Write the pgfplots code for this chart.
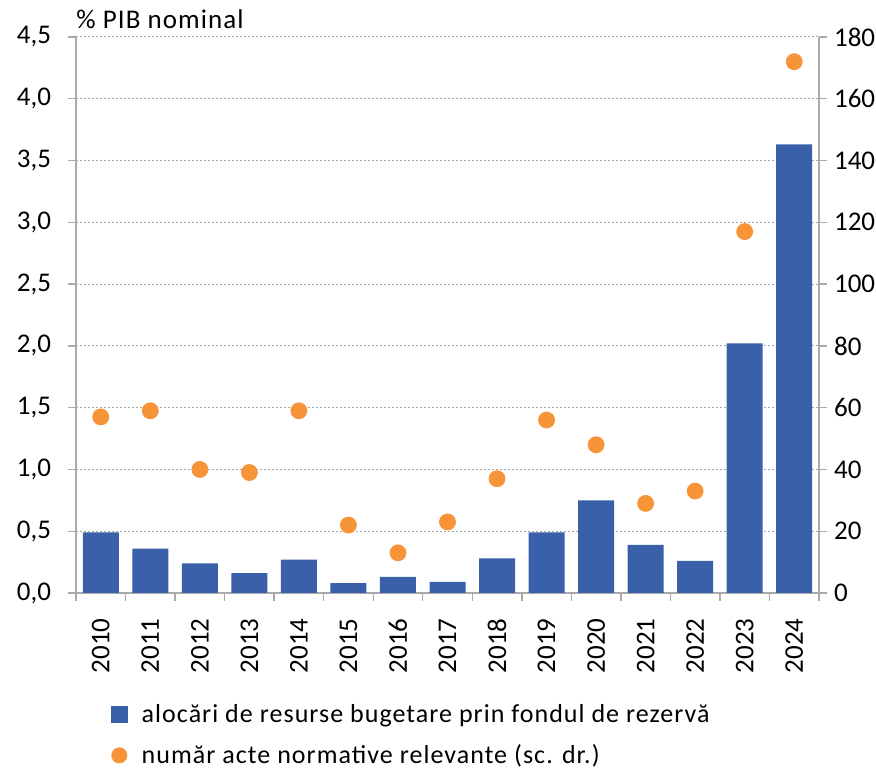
\documentclass[border=0pt]{standalone}
\usepackage{pgfplots}
\pgfplotsset{compat=1.18}
\usepackage{pgfplotstable}
\usepackage{fontspec}
\setmainfont{Carlito}
\newfontfamily\spaced[LetterSpace=4]{Carlito}
\definecolor{barblue}{RGB}{59,96,170}
\definecolor{dotorange}{RGB}{247,148,56}
\definecolor{axgray}{RGB}{170,170,170}
\definecolor{gridgray}{RGB}{165,165,165}

\pgfplotstableread{
x year alloc acts
0 2010 0.49 57
1 2011 0.36 59
2 2012 0.24 40
3 2013 0.16 39
4 2014 0.27 59
5 2015 0.08 22
6 2016 0.13 13
7 2017 0.09 23
8 2018 0.28 37
9 2019 0.49 56
10 2020 0.75 48
11 2021 0.39 29
12 2022 0.26 33
13 2023 2.02 117
14 2024 3.63 172
}\data

\begin{document}
\begin{tikzpicture}
\pgfplotsset{
  base/.style={
    scale only axis, width=371.5pt, height=278pt,
    xmin=-0.5, xmax=14.5,
    tick align=outside,
    axis line style={axgray, line width=0.7pt, -},
    tick style={axgray, line width=0.7pt},
    major tick length=4pt,
    ticklabel style={font=\fontsize{13.5}{16}\selectfont},
    /pgf/number format/assume math mode=true,
  }
}
\begin{axis}[base,
  axis x line*=bottom, axis y line*=left,
  ymin=0, ymax=4.5, ytick={0,0.5,1,1.5,2,2.5,3,3.5,4,4.5},
  ymajorgrids,
  grid style={gridgray, dash pattern=on 1pt off 1pt, line width=0.5pt},
  yticklabel style={xshift=-5pt, /pgf/number format/.cd, fixed, fixed zerofill, precision=1, use comma},
  xtick={-0.5,0.5,1.5,2.5,3.5,4.5,5.5,6.5,7.5,8.5,9.5,10.5,11.5,12.5,13.5,14.5},
  x tick label as interval,
  xticklabels={2010,2011,2012,2013,2014,2015,2016,2017,2018,2019,2020,2021,2022,2023,2024},
  xticklabel style={rotate=90, anchor=east, inner xsep=8.5pt},
]
\addplot[ybar, bar width=18pt, fill=barblue, draw=none] table[x=x, y=alloc]{\data};
\coordinate (sw) at (rel axis cs:0,0);
\coordinate (ne) at (rel axis cs:1,1);
\coordinate (nw) at (rel axis cs:0,1);
\end{axis}
\begin{axis}[base,
  axis y line*=right, axis x line=none,
  ymin=0, ymax=180, ytick={0,20,...,180},
  legend style={draw=none, fill=none, inner sep=0pt, outer sep=0pt,
    at={(0.047,-0.193)}, anchor=north west,
    font=\fontsize{13}{16}\selectfont\spaced, row sep=5.5pt,
    /tikz/every odd column/.append style={column sep=5pt}},
  legend cell align=left,
]
\addlegendimage{legend image code/.code={\fill[barblue] (0pt,-4pt) rectangle (8pt,4pt);}}
\addlegendentry{alocări de resurse bugetare prin fondul de rezervă}
\addplot[only marks, mark=*, mark size=4pt, color=dotorange,
  legend image code/.code={\fill[dotorange] (4pt,0pt) circle (3.8pt);}]
  table[x=x, y=acts]{\data};
\addlegendentry{număr acte normative relevante (sc. dr.)}
\end{axis}
\node[anchor=base west, font=\fontsize{13.5}{16}\selectfont\spaced, inner sep=0pt] at ([yshift=4pt]nw) {\% PIB nominal};
\pgfresetboundingbox
\path ([shift={(-38pt,-89.5pt)}]sw) rectangle ([shift={(28.5pt,18.5pt)}]ne);
\end{tikzpicture}
\end{document}
